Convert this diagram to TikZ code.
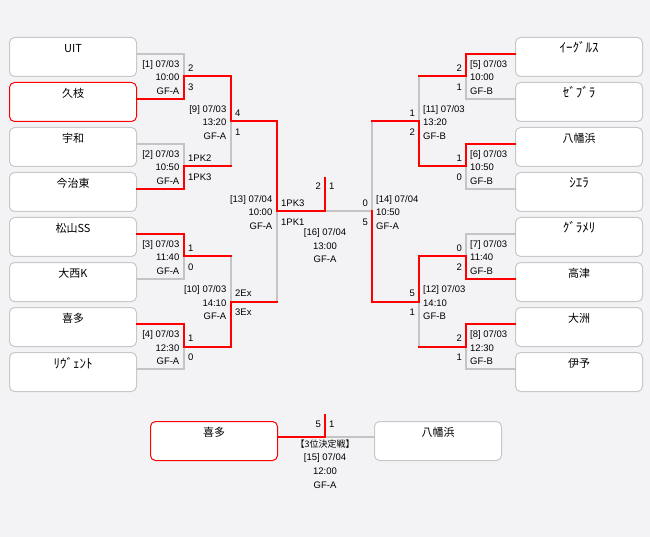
\documentclass[tikz,border=0pt]{standalone}
\usepackage{fontspec}
\setmainfont{Liberation Sans}
\newfontfamily\cjk{Noto Sans CJK JP}
\definecolor{bg}{HTML}{F3F2F5}
\definecolor{lgray}{HTML}{C4C4C4}
\definecolor{boxgray}{HTML}{C8C8C8}
\definecolor{wred}{HTML}{FF0000}
\tikzset{
  team/.style={draw=boxgray, fill=white, rounded corners=5pt, line width=1pt,
    minimum width=127pt, minimum height=39pt, inner sep=0pt},
  winbox/.style={team, draw=wred},
  tname/.style={font=\cjk\fontsize{11}{11}\selectfont, anchor=base, inner sep=0pt},
  hname/.style={tname, font=\cjk\fontsize{13}{13}\selectfont},
  lbl/.style={font=\fontsize{9.5}{9.5}\selectfont, inner sep=0pt},
  gl/.style={draw=lgray, line width=2pt, line cap=rect},
  rl/.style={draw=wred, line width=2pt, line cap=rect}
}
\newcommand\matchL[8]{%
  \node[lbl,anchor=base east] (#1a) at ({#2-4.5},{#3-9}) {#4};
  \node[lbl,anchor=base east] (#1b) at ({#2-4.5},{#3+4.5}) {#5};
  \node[lbl,anchor=base east] (#1c) at ({#2-4.5},{#3+18}) {#6};
  \node[lbl,anchor=base west] (#1d) at ({#2+4},{#3-5}) {#7};
  \node[lbl,anchor=base west] (#1e) at ({#2+4},{#3+14}) {#8};}
\newcommand\matchR[8]{%
  \node[lbl,anchor=base west] (#1a) at ({#2+4},{#3-9}) {#4};
  \node[lbl,anchor=base west] (#1b) at ({#2+4},{#3+4.5}) {#5};
  \node[lbl,anchor=base west] (#1c) at ({#2+4},{#3+18}) {#6};
  \node[lbl,anchor=base east] (#1d) at ({#2-4},{#3-5}) {#7};
  \node[lbl,anchor=base east] (#1e) at ({#2-4},{#3+14}) {#8};}
\begin{document}
\begin{tikzpicture}[x=1pt,y=-1pt]
\fill[bg] (0,0) rectangle (650,537);
\useasboundingbox (0,0) rectangle (650,537);
% left boxes
\node[team]   (L1) at (73,57)  {};
\node[winbox] (L2) at (73,102) {};
\node[team]   (L3) at (73,147) {};
\node[team]   (L4) at (73,192) {};
\node[team]   (L5) at (73,237) {};
\node[team]   (L6) at (73,282) {};
\node[team]   (L7) at (73,327) {};
\node[team]   (L8) at (73,372) {};
% right boxes
\node[team] (R1) at (579,57)  {};
\node[team] (R2) at (579,102) {};
\node[team] (R3) at (579,147) {};
\node[team] (R4) at (579,192) {};
\node[team] (R5) at (579,237) {};
\node[team] (R6) at (579,282) {};
\node[team] (R7) at (579,327) {};
\node[team] (R8) at (579,372) {};
% third place boxes
\node[winbox] (TL) at (214,441) {};
\node[team]   (TR) at (438,441) {};
% names
\node[tname] (L1t) at ([yshift=-15.5pt]L1.north) {UIT};
\node[tname] (L2t) at ([yshift=-15.5pt]L2.north) {久枝};
\node[tname] (L3t) at ([yshift=-15.5pt]L3.north) {宇和};
\node[tname] (L4t) at ([yshift=-15.5pt]L4.north) {今治東};
\node[tname] (L5t) at ([yshift=-15.5pt]L5.north) {松山SS};
\node[tname] (L6t) at ([yshift=-15.5pt]L6.north) {大西K};
\node[tname] (L7t) at ([yshift=-15.5pt]L7.north) {喜多};
\node[hname] (L8t) at ([yshift=-16pt]L8.north) {ﾘｳﾞｪﾝﾄ};
\node[hname] (R1t) at ([yshift=-16pt]R1.north) {ｲｰｸﾞﾙｽ};
\node[hname] (R2t) at ([yshift=-16pt]R2.north) {ｾﾞﾌﾞﾗ};
\node[tname] (R3t) at ([yshift=-15.5pt]R3.north) {八幡浜};
\node[hname] (R4t) at ([yshift=-16pt]R4.north) {ｼｴﾗ};
\node[hname] (R5t) at ([yshift=-16pt]R5.north) {ｸﾞﾗﾒﾘ};
\node[tname] (R6t) at ([yshift=-15.5pt]R6.north) {高津};
\node[tname] (R7t) at ([yshift=-15.5pt]R7.north) {大洲};
\node[tname] (R8t) at ([yshift=-15.5pt]R8.north) {伊予};
\node[tname] (TLt) at ([yshift=-15.5pt]TL.north) {喜多};
\node[tname] (TRt) at ([yshift=-15.5pt]TR.north) {八幡浜};
% junctions
\coordinate (m1) at (184,76.5);
\coordinate (m2) at (184,166.5);
\coordinate (m3) at (184,256.5);
\coordinate (m4) at (184,346.5);
\coordinate (m9) at (231,121.5);
\coordinate (m10) at (231,301.5);
\coordinate (m13) at (277,211.5);
\coordinate (m16) at (325,211.5);
\coordinate (w16) at (325,178);
\coordinate (m5) at (466,76.5);
\coordinate (m6) at (466,166.5);
\coordinate (m7) at (466,256.5);
\coordinate (m8) at (466,346.5);
\coordinate (m11) at (419,121.5);
\coordinate (m12) at (419,301.5);
\coordinate (m14) at (372,211.5);
\coordinate (m15) at (325,437);
\coordinate (w15) at (325,415);
% gray lines
\draw[gl] ([yshift=3pt]L1.east) -| (m1);
\draw[gl] ([yshift=3pt]L3.east) -| (m2);
\draw[gl] ([yshift=3pt]L6.east) -| (m3);
\draw[gl] ([yshift=3pt]L8.east) -| (m4);
\draw[gl] (m2 -| m9) -- (m9);
\draw[gl] (m3 -| m10) -- (m10);
\draw[gl] (m10 -| m13) -- (m13);
\draw[gl] ([yshift=3pt]R2.west) -| (m5);
\draw[gl] ([yshift=3pt]R4.west) -| (m6);
\draw[gl] ([yshift=3pt]R5.west) -| (m7);
\draw[gl] ([yshift=3pt]R8.west) -| (m8);
\draw[gl] (m5 -| m11) -- (m11);
\draw[gl] (m8 -| m12) -- (m12);
\draw[gl] (m11 -| m14) -- (m14) -- (m16);
\draw[gl] ([yshift=4pt]TR.west) -- (m15);
% red lines
\draw[rl] ([yshift=3pt]L2.east) -| (m1) -| (m9) -| (m13) -- (m16) -- (w16);
\draw[rl] ([yshift=3pt]L4.east) -| (m2) -- (m2 -| m9);
\draw[rl] ([yshift=3pt]L5.east) -| (m3) -- (m3 -| m10);
\draw[rl] ([yshift=3pt]L7.east) -| (m4) -| (m10) -- (m10 -| m13);
\draw[rl] ([yshift=3pt]R1.west) -| (m5) -- (m5 -| m11);
\draw[rl] ([yshift=3pt]R3.west) -| (m6) -| (m11) -- (m11 -| m14);
\draw[rl] ([yshift=3pt]R6.west) -| (m7) -| (m12) -| (m14);
\draw[rl] ([yshift=3pt]R7.west) -| (m8) -- (m8 -| m12);
\draw[rl] ([yshift=4pt]TL.east) -| (m15) -- (w15);
% match labels
\matchL{i1}{184}{76.5}{[1] 07/03}{10:00}{GF-A}{2}{3}
\matchL{i2}{184}{166.5}{[2] 07/03}{10:50}{GF-A}{1PK2}{1PK3}
\matchL{i3}{184}{256.5}{[3] 07/03}{11:40}{GF-A}{1}{0}
\matchL{i4}{184}{346.5}{[4] 07/03}{12:30}{GF-A}{1}{0}
\matchL{i9}{231}{121.5}{[9] 07/03}{13:20}{GF-A}{4}{1}
\matchL{i10}{231}{301.5}{[10] 07/03}{14:10}{GF-A}{2Ex}{3Ex}
\matchL{i13}{277}{211.5}{[13] 07/04}{10:00}{GF-A}{1PK3}{1PK1}
\matchR{i5}{466}{76.5}{[5] 07/03}{10:00}{GF-B}{2}{1}
\matchR{i6}{466}{166.5}{[6] 07/03}{10:50}{GF-B}{1}{0}
\matchR{i7}{466}{256.5}{[7] 07/03}{11:40}{GF-B}{0}{2}
\matchR{i8}{466}{346.5}{[8] 07/03}{12:30}{GF-B}{2}{1}
\matchR{i11}{419}{121.5}{[11] 07/03}{13:20}{GF-B}{1}{2}
\matchR{i12}{419}{301.5}{[12] 07/03}{14:10}{GF-B}{5}{1}
\matchR{i14}{372}{211.5}{[14] 07/04}{10:50}{GF-A}{0}{5}
% final
\node[lbl,anchor=base east] (f2) at (321,189.5) {2};
\node[lbl,anchor=base west] (f1) at (329,189.5) {1};
\node[lbl,anchor=base] (fa) at (325,235.5) {[16] 07/04};
\node[lbl,anchor=base] (fb) at (325,249.5) {13:00};
\node[lbl,anchor=base] (fc) at (325,262.5) {GF-A};
% third place
\node[lbl,anchor=base east] (t5) at (321,427.5) {5};
\node[lbl,anchor=base west] (t1) at (329,427.5) {1};
\node[lbl,anchor=base,font=\cjk\fontsize{9}{9}\selectfont] (ta) at (325,447.5) {【3位決定戦】};
\node[lbl,anchor=base] (tb) at (325,460.5) {[15] 07/04};
\node[lbl,anchor=base] (tc) at (325,474.5) {12:00};
\node[lbl,anchor=base] (td) at (325,488.5) {GF-A};
\end{tikzpicture}
\end{document}
